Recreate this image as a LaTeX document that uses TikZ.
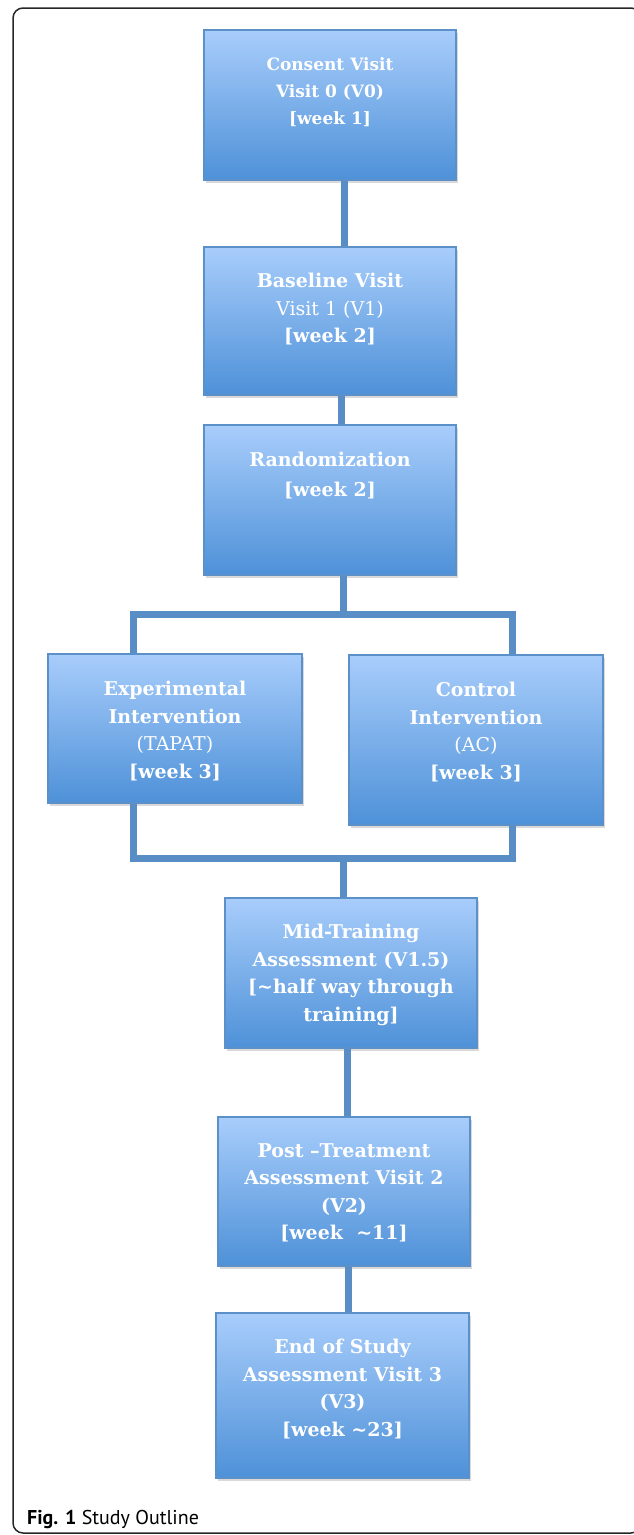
\documentclass[tikz,border=0pt]{standalone}
\usepackage{fontspec}
\setmainfont{DejaVu Serif}
\newfontfamily\capfont{PT Sans}
\usetikzlibrary{positioning,shadows}

\definecolor{boxtop}{RGB}{168,205,251}
\definecolor{boxbot}{RGB}{78,145,216}
\definecolor{boxline}{RGB}{92,144,200}
\definecolor{linkblue}{RGB}{89,141,197}

\tikzset{
  stage/.style={draw=boxline,line width=2pt,top color=boxtop,bottom color=boxbot,
    minimum width=252pt,minimum height=150pt,inner sep=0pt,
    drop shadow={shadow xshift=1.5pt,shadow yshift=-3pt,opacity=0.3}},
  stagetext/.style={text=white,align=center,inner sep=0pt,
    font=\fontsize{19}{27.5}\selectfont\bfseries},
  link/.style={draw=linkblue,line width=7pt}
}

\begin{document}
\begin{tikzpicture}[x=1pt,y=-1pt]
\useasboundingbox (0,0) rectangle (634,1535);
\draw[line width=1.5pt,rounded corners=10pt,black!85] (13,8) rectangle (641,1533);
% stages
\node[stage] (v0) at (330,105) {};
\node[stagetext,font=\fontsize{17}{27}\selectfont\bfseries,below=28pt of v0.north] (v0t) {Consent Visit\\Visit 0 (V0)\\{}[week 1]};
\node[stage,minimum height=148pt] (v1) at (330,321) {};
\node[stagetext,below=27pt of v1.north] (v1t) {Baseline Visit\\{\mdseries Visit 1 (V1)}\\{}[week 2]};
\node[stage] (rand) at (330,500) {};
\node[stagetext,font=\fontsize{19}{30}\selectfont\bfseries,below=28pt of rand.north] (randt) {Randomization\\{}[week 2]};
\node[stage,minimum width=254pt,minimum height=149pt] (exp) at (175,728.5) {};
\node[stagetext,below=28pt of exp.north] (expt) {Experimental\\Intervention\\{\mdseries (TAPAT)}\\{}[week 3]};
\node[stage,minimum width=254pt,minimum height=170pt] (ctl) at (476,740) {};
\node[stagetext,below=28pt of ctl.north] (ctlt) {Control\\Intervention\\{\mdseries (AC)}\\{}[week 3]};
\node[stage] (mid) at (351,973) {};
\node[stagetext,below=27pt of mid.north] (midt) {Mid-Training\\Assessment (V1.5)\\{}[\textasciitilde half way through\\training]};
\node[stage,minimum height=149pt] (post) at (344,1191.5) {};
\node[stagetext,below=27pt of post.north] (postt) {Post –Treatment\\Assessment Visit 2\\(V2)\\{}[week\ \ \textasciitilde 11]};
\node[stage,minimum width=253pt,minimum height=165pt] (end) at (342.5,1395.5) {};
\node[stagetext,below=27pt of end.north] (endt) {End of Study\\Assessment Visit 3\\(V3)\\{}[week \textasciitilde 23]};
% links
\coordinate (split) at (343,614);
\coordinate (splitl) at (133,614);
\coordinate (splitr) at (512,614);
\coordinate (join) at (343,858);
\coordinate (joinl) at (133,858);
\coordinate (joinr) at (512,858);
\draw[link] ([xshift=14pt]v0.south) -- ([xshift=14pt]v1.north);
\draw[link] ([xshift=11pt]v1.south) -- ([xshift=11pt]rand.north);
\draw[link] ([xshift=13pt]rand.south) -- (split);
\draw[link] (splitl |- exp.north) -- (splitl) -- (splitr) -- (splitr |- ctl.north);
\draw[link] (joinl |- exp.south) -- (joinl) -- (joinr) -- (joinr |- ctl.south);
\draw[link] (join) -- (join |- mid.north);
\draw[link] ([xshift=-4pt]mid.south) -- ([xshift=3pt]post.north);
\draw[link] ([xshift=4pt]post.south) -- ([xshift=5.5pt]end.north);
% caption
\node[anchor=west,inner sep=0pt,font=\capfont\fontsize{20}{22}\selectfont] (cap) at (27,1519) {\textbf{Fig. 1} Study Outline};
\end{tikzpicture}
\end{document}
